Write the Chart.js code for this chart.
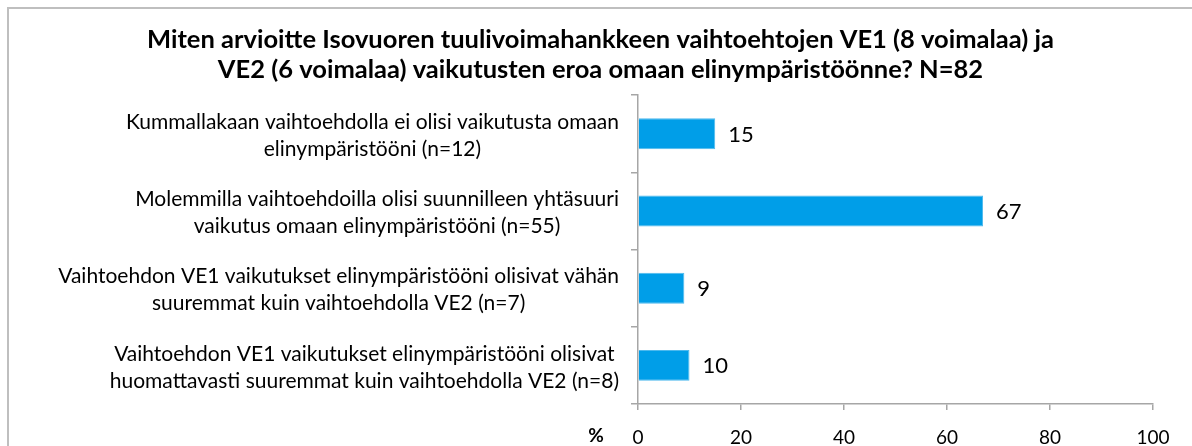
<!DOCTYPE html>
<html>
<head>
<meta charset="utf-8">
<script src="https://cdn.jsdelivr.net/npm/chart.js@4/dist/chart.umd.min.js"></script>
<style>
  html, body { margin: 0; padding: 0; background: #ffffff; }
  #wrap { width: 1192px; height: 446px; position: relative; }
</style>
</head>
<body>
<div id="wrap"><canvas id="c" width="1192" height="446"></canvas></div>
<script>
const titleLines = [
  "Miten arvioitte Isovuoren tuulivoimahankkeen vaihtoehtojen VE1 (8 voimalaa) ja",
  "VE2 (6 voimalaa) vaikutusten eroa omaan elinympäristöönne? N=82"
];
const categories = [
  ["Kummallakaan vaihtoehdolla ei olisi vaikutusta omaan", "elinympäristööni (n=12)"],
  ["Molemmilla vaihtoehdoilla olisi suunnilleen yhtäsuuri", "vaikutus omaan elinympäristööni (n=55)"],
  ["Vaihtoehdon VE1 vaikutukset elinympäristööni olisivat vähän", "suuremmat kuin vaihtoehdolla VE2 (n=7)"],
  ["Vaihtoehdon VE1 vaikutukset elinympäristööni olisivat", "huomattavasti suuremmat kuin vaihtoehdolla VE2 (n=8)"]
];
const values = [15, 67, 9, 10];
const xTickValues = [0, 20, 40, 60, 80, 100];
const axisUnitLabel = "%";

const FONT = "Lato, 'Liberation Sans', sans-serif";

const framePlugin = {
  id: 'frame',
  beforeDraw(chart) {
    const ctx = chart.ctx;
    ctx.save();
    ctx.strokeStyle = '#BFBFBF';
    ctx.lineWidth = 2;
    ctx.beginPath();
    ctx.moveTo(8, 446);
    ctx.lineTo(8, 8);
    ctx.lineTo(1192, 8);
    ctx.stroke();
    ctx.restore();
  }
};

const catLabelPlugin = {
  id: 'catLabels',
  afterDraw(chart) {
    const ctx = chart.ctx;
    const y = chart.scales.y;
    const right = chart.chartArea.left - 19;
    const lh = 27;
    ctx.save();
    ctx.font = "21px " + FONT;
    ctx.fillStyle = '#000';
    ctx.textAlign = 'center';
    ctx.textBaseline = 'middle';
    categories.forEach((lines, i) => {
      const cy = y.getPixelForValue(i) + 2;
      const w = Math.max(...lines.map(l => ctx.measureText(l).width));
      const cx = right - w / 2;
      const y0 = cy - (lines.length - 1) * lh / 2;
      lines.forEach((l, k) => ctx.fillText(l, cx, y0 + k * lh));
    });
    // unit label, aligned with x tick labels
    const xs = chart.scales.x;
    ctx.font = "bold 19px " + FONT;
    ctx.fillText(axisUnitLabel, xs.left - 42, chart.chartArea.bottom + 32);
    // value labels
    ctx.font = "22px " + FONT;
    ctx.textAlign = 'left';
    const meta = chart.getDatasetMeta(0);
    meta.data.forEach((bar, i) => {
      ctx.fillText(String(values[i]), bar.x + 13, bar.y + 1);
    });
    ctx.restore();
  }
};

new Chart(document.getElementById('c'), {
  type: 'bar',
  data: {
    labels: categories,
    datasets: [{
      data: values,
      backgroundColor: '#009EE8',
      borderColor: '#4DB9EE',
      borderWidth: 1,
      categoryPercentage: 1.0,
      barPercentage: 0.4
    }]
  },
  options: {
    indexAxis: 'y',
    responsive: false,
    animation: false,
    layout: { padding: { left: 48, right: 39, top: 0, bottom: 0 } },
    plugins: {
      legend: { display: false },
      tooltip: { enabled: false },
      title: {
        display: true,
        text: titleLines,
        color: '#000',
        font: { family: FONT, size: 25.5, weight: 'bold', lineHeight: 1.18 },
        padding: { top: 25, bottom: 10 }
      }
    },
    scales: {
      x: {
        min: 0, max: 100,
        afterFit(scale) { scale.height = 42; },
        afterBuildTicks(scale) { scale.ticks = xTickValues.map(v => ({ value: v })); },
        ticks: { color: '#000', font: { family: FONT, size: 19 }, padding: 16 },
        grid: { drawOnChartArea: false, drawTicks: true, tickLength: 6, color: '#A6A6A6', lineWidth: 1.5 },
        border: { color: '#A6A6A6', width: 1.5 }
      },
      y: {
        afterFit(scale) { scale.width = 590; },
        ticks: { display: false },
        grid: { drawOnChartArea: false, drawTicks: true, tickLength: 7, color: '#A6A6A6', lineWidth: 1.5, offset: true },
        border: { color: '#A6A6A6', width: 1.5 }
      }
    }
  },
  plugins: [framePlugin, catLabelPlugin]
});
</script>
</body>
</html>
